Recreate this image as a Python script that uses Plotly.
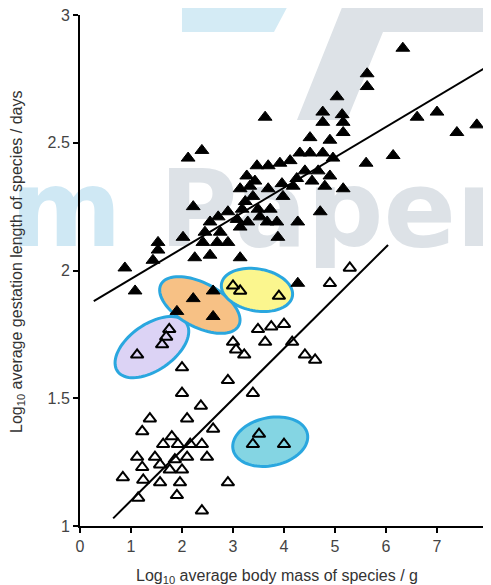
import numpy as np
import plotly.graph_objects as go

# ---------------- data ----------------
filled_x = [6.33, 5.63, 5.63, 5.04, 4.76, 5.14, 4.76, 5.16, 5.16, 3.63, 6.61, 7.00, 7.39, 7.78, 6.14, 5.61,
            4.51, 4.90, 4.31, 4.51, 4.76, 4.96, 4.12, 3.92, 4.41, 4.67, 4.90, 4.25, 4.55, 4.18, 4.80, 5.16,
            2.12, 2.39,
            3.47, 3.69, 3.27, 3.43, 3.14, 3.33, 3.69, 3.96, 3.39, 3.98,
            2.22, 3.24, 3.18, 3.49, 3.73, 2.90, 2.71, 2.55, 3.08, 3.29, 3.53, 3.67, 3.86, 2.45, 2.75, 3.14,
            2.02, 2.41, 2.69, 2.90, 3.88, 2.25, 2.55, 3.14,
            4.27, 4.71,
            1.53, 1.53, 1.43, 0.88, 1.08, 4.27,
            2.22, 2.61, 1.90, 2.61]
filled_y = [2.87, 2.77, 2.72, 2.68, 2.62, 2.61, 2.58, 2.58, 2.54, 2.60, 2.60, 2.62, 2.54, 2.57, 2.45, 2.42,
            2.52, 2.51, 2.46, 2.46, 2.46, 2.44, 2.43, 2.42, 2.39, 2.39, 2.37, 2.36, 2.35, 2.33, 2.33, 2.32,
            2.44, 2.47,
            2.41, 2.41, 2.37, 2.35, 2.32, 2.33, 2.32, 2.34, 2.29, 2.29,
            2.25, 2.27, 2.24, 2.24, 2.24, 2.23, 2.21, 2.19, 2.20, 2.19, 2.21, 2.19, 2.19, 2.15, 2.15, 2.17,
            2.13, 2.11, 2.11, 2.11, 2.13, 2.05, 2.06, 2.05,
            2.19, 2.23,
            2.11, 2.08, 2.04, 2.01, 1.92, 1.95,
            1.89, 1.92, 1.84, 1.82]

open_x = [1.75, 1.69, 1.61, 1.12, 3.00, 3.14, 3.90, 3.51, 3.39, 4.00,
          4.90, 5.29, 3.49, 3.75, 4.00, 3.63, 3.00, 3.06, 3.22, 4.16, 4.41, 4.61,
          2.00, 2.90, 2.00, 3.39, 2.37, 1.37, 2.10, 1.22, 2.61, 1.80,
          1.63, 1.92, 2.16, 2.39, 1.12, 1.47, 1.86, 2.10, 2.49,
          1.22, 1.57, 1.76, 2.00, 0.84, 1.24, 1.57, 1.96, 2.90, 1.14, 1.90, 2.39]
open_y = [1.77, 1.74, 1.71, 1.67, 1.94, 1.92, 1.90, 1.36, 1.32, 1.32,
          1.95, 2.01, 1.77, 1.78, 1.79, 1.72, 1.72, 1.69, 1.67, 1.72, 1.67, 1.65,
          1.62, 1.57, 1.52, 1.52, 1.47, 1.42, 1.42, 1.37, 1.38, 1.35,
          1.32, 1.32, 1.32, 1.32, 1.27, 1.27, 1.26, 1.27, 1.27,
          1.23, 1.24, 1.22, 1.22, 1.19, 1.18, 1.17, 1.17, 1.17, 1.11, 1.12, 1.06]

upper_line_x = [0.27, 8.0]
upper_line_y = [1.88, 2.80]
lower_line_x = [0.65, 6.04]
lower_line_y = [1.03, 2.10]

x_tick_vals = [0, 1, 2, 3, 4, 5, 6, 7, 8]
x_tick_text = ["0", "1", "2", "3", "4", "5", "6", "7", "8"]
y_tick_vals = [1, 1.5, 2, 2.5, 3]
y_tick_text = ["1", "1.5", "2", "2.5", "3"]

x_title = "Log<sub>10</sub> average body mass of species / g"
y_title = "Log<sub>10</sub> average gestation length of species / days"

# highlighted groups: centre (data), semi-axes (px), angle (deg), fill
ellipse_cx = [1.41, 2.35, 3.47, 3.73]
ellipse_cy = [1.70, 1.865, 1.924, 1.33]
ellipse_a = [42, 44, 36, 38]
ellipse_b = [23, 22, 21, 24]
ellipse_ang = [35, -28, -10, 12]
ellipse_fill = ["#dcd3f5", "#f7c185", "#fbf68e", "#84d5e3"]

# ---------------- layout geometry (screen pixels) ----------------
# the page body has an 8px margin, so the figure div starts at (8, 8)
OFF = 8
SW, SH = 491, 585
W, H = SW - OFF, SH - OFF
PLOT_L, PLOT_R, PLOT_T, PLOT_B = 80, 488, 15, 526
XR, YR = (0, 8), (1, 3)
PX_PER_X = (PLOT_R - PLOT_L) / (XR[1] - XR[0])
PX_PER_Y = (PLOT_B - PLOT_T) / (YR[1] - YR[0])

def ppx(px):  # screen px -> paper (whole figure)
    return (px - OFF) / W
def ppy(py):
    return (SH - py) / H

fig = go.Figure()

# watermark layer: a full-figure subplot in screen-pixel units, drawn under the data
fig.add_trace(go.Scatter(
    x=[66, 334], y=[219, 219], mode="text", xaxis="x", yaxis="y",
    text=["<b>m</b>", "<b>Paper</b>"], textposition="middle center",
    textfont=dict(size=107, family="DejaVu Sans", color=["#cfe8f4", "#dde2e7"]),
    cliponaxis=False, hoverinfo="skip", showlegend=False))

# data layer
fig.add_trace(go.Scatter(x=upper_line_x, y=upper_line_y, mode="lines", xaxis="x2", yaxis="y2",
                         line=dict(color="black", width=2), showlegend=False, hoverinfo="skip"))
fig.add_trace(go.Scatter(x=lower_line_x, y=lower_line_y, mode="lines", xaxis="x2", yaxis="y2",
                         line=dict(color="black", width=2), showlegend=False, hoverinfo="skip"))
fig.add_trace(go.Scatter(x=open_x, y=open_y, mode="markers", xaxis="x2", yaxis="y2", showlegend=False,
                         marker=dict(symbol="triangle-up-open", size=11, color="black",
                                     line=dict(color="black", width=2))))
fig.add_trace(go.Scatter(x=filled_x, y=filled_y, mode="markers", xaxis="x2", yaxis="y2", showlegend=False,
                         marker=dict(symbol="triangle-up", size=12, color="black",
                                     line=dict(color="black", width=1))))

shapes = []
grey_poly = [(345, 0), (493, 0), (493, 32), (383, 32), (347, 120), (297, 120)]
blue_poly = [(182, 0), (291, 0), (274, 32), (182, 32)]
for poly, col in [(grey_poly, "#dde2e7"), (blue_poly, "#d4ebf5")]:
    path = "M " + " L ".join(f"{ppx(a):.4f},{ppy(b):.4f}" for a, b in poly) + " Z"
    shapes.append(dict(type="path", xref="paper", yref="paper", path=path,
                       fillcolor=col, line=dict(width=0), layer="below"))

t = np.linspace(0, 2 * np.pi, 80)
for cx, cy, a, b, ang, col in zip(ellipse_cx, ellipse_cy, ellipse_a, ellipse_b, ellipse_ang, ellipse_fill):
    th = np.radians(ang)
    ex = a * np.cos(t) * np.cos(th) - b * np.sin(t) * np.sin(th)
    ey = a * np.cos(t) * np.sin(th) + b * np.sin(t) * np.cos(th)
    xs = cx + ex / PX_PER_X
    ys = cy + ey / PX_PER_Y
    path = "M " + " L ".join(f"{x:.4f},{y:.4f}" for x, y in zip(xs, ys)) + " Z"
    shapes.append(dict(type="path", xref="x2", yref="y2", path=path, fillcolor=col,
                       line=dict(color="#2aa7df", width=3), layer="below"))

axis_common = dict(showline=True, linecolor="black", linewidth=2, ticks="outside",
                   ticklen=5, tickwidth=2, tickcolor="black", showgrid=False, zeroline=False,
                   ticklabeloverflow="allow", automargin=False,
                   tickfont=dict(family="Liberation Sans, Arial", size=16, color="#444444"))

fig.update_layout(
    width=W, height=H, margin=dict(l=0, r=0, t=0, b=0, autoexpand=False),
    paper_bgcolor="white", plot_bgcolor="rgba(0,0,0,0)",
    xaxis=dict(visible=False, range=[OFF, SW], domain=[0, 1], fixedrange=True, automargin=False),
    yaxis=dict(visible=False, range=[SH, OFF], domain=[0, 1], fixedrange=True, automargin=False),
    xaxis2=dict(range=list(XR), tickvals=x_tick_vals, ticktext=x_tick_text, anchor="y2",
                domain=[ppx(PLOT_L), ppx(PLOT_R)], **axis_common),
    yaxis2=dict(range=list(YR), tickvals=y_tick_vals, ticktext=y_tick_text, anchor="x2",
                domain=[ppy(PLOT_B), ppy(PLOT_T)], **axis_common),
    shapes=shapes,
    annotations=[
        dict(text=x_title, xref="paper", yref="paper", x=ppx(277), y=ppy(576),
             showarrow=False, xanchor="center", yanchor="middle",
             font=dict(family="Liberation Sans, Arial", size=16, color="#333333")),
        dict(text=y_title, xref="paper", yref="paper", x=ppx(18), y=ppy(262),
             showarrow=False, xanchor="center", yanchor="middle", textangle=-90,
             font=dict(family="Liberation Sans, Arial", size=16, color="#333333")),
    ],
)

fig.write_html("out.html")
